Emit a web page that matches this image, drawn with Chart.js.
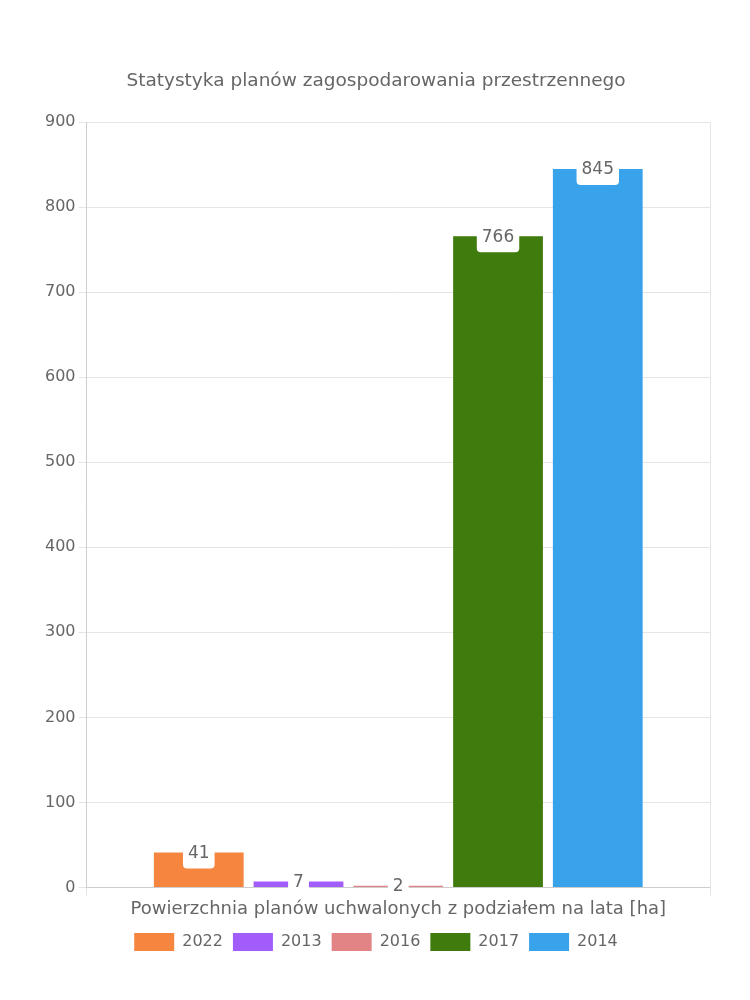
<!DOCTYPE html>
<html>
<head>
<meta charset="utf-8">
<script src="https://cdn.jsdelivr.net/npm/chart.js@4"></script>
<style>
  body { margin: 0; background: #fff; }
  #wrap { width: 750px; height: 1000px; }
</style>
</head>
<body>
<div id="wrap"><canvas id="myChart"></canvas></div>
<script>
const categories = ['Powierzchnia planów uchwalonych z podziałem na lata [ha]'];
const years = ['2022', '2013', '2016', '2017', '2014'];
const values = [41, 7, 2, 766, 845];
const colors = ['#f6863f', '#a25cfb', '#e28485', '#3f7b0d', '#38a2ea'];

Chart.defaults.font.family = '"DejaVu Sans", sans-serif';
Chart.defaults.color = '#666';

// etykiety wartości w białych ramkach
const valueLabels = {
    id: 'valueLabels',
    afterDatasetsDraw(chart) {
        const ctx = chart.ctx;
        ctx.save();
        ctx.font = '17px "DejaVu Sans", sans-serif';
        ctx.textAlign = 'center';
        ctx.textBaseline = 'middle';
        chart.data.datasets.forEach((ds, i) => {
            chart.getDatasetMeta(i).data.forEach((bar, j) => {
                const txt = String(ds.data[j]);
                const w = ctx.measureText(txt).width + 10;
                const h = 32;
                ctx.fillStyle = '#fff';
                ctx.beginPath();
                ctx.roundRect(bar.x - w / 2, bar.y - h / 2, w, h, 4);
                ctx.fill();
                ctx.fillStyle = '#666';
                ctx.fillText(txt, bar.x, bar.y + 1);
            });
        });
        ctx.restore();
    }
};

const ctx = document.getElementById('myChart').getContext('2d');
const myChart = new Chart(ctx, {
    type: 'bar',
    data: {
        labels: categories,
        datasets: years.map((y, i) => ({
            label: y,
            data: [values[i]],
            backgroundColor: colors[i]
        }))
    },
    options: {
        responsive: true,
        maintainAspectRatio: false,
        animation: false,
        layout: { padding: { left: 42, right: 40, top: 60, bottom: 39 } },
        plugins: {
            title: {
                display: true,
                text: 'Statystyka planów zagospodarowania przestrzennego',
                font: { size: 18.5, weight: 'normal' },
                padding: { top: 10, bottom: 30 }
            },
            legend: {
                position: 'bottom',
                labels: { boxWidth: 40, boxHeight: 18, font: { size: 16 } }
            },
            tooltip: { enabled: false }
        },
        scales: {
            x: {
                ticks: { font: { size: 18 } },
                grid: { color: '#e5e5e5' }
            },
            y: {
                min: 0,
                max: 900,
                ticks: { stepSize: 100, font: { size: 16 } },
                grid: { color: '#e5e5e5' }
            }
        }
    },
    plugins: [valueLabels]
});
</script>
</body>
</html>
